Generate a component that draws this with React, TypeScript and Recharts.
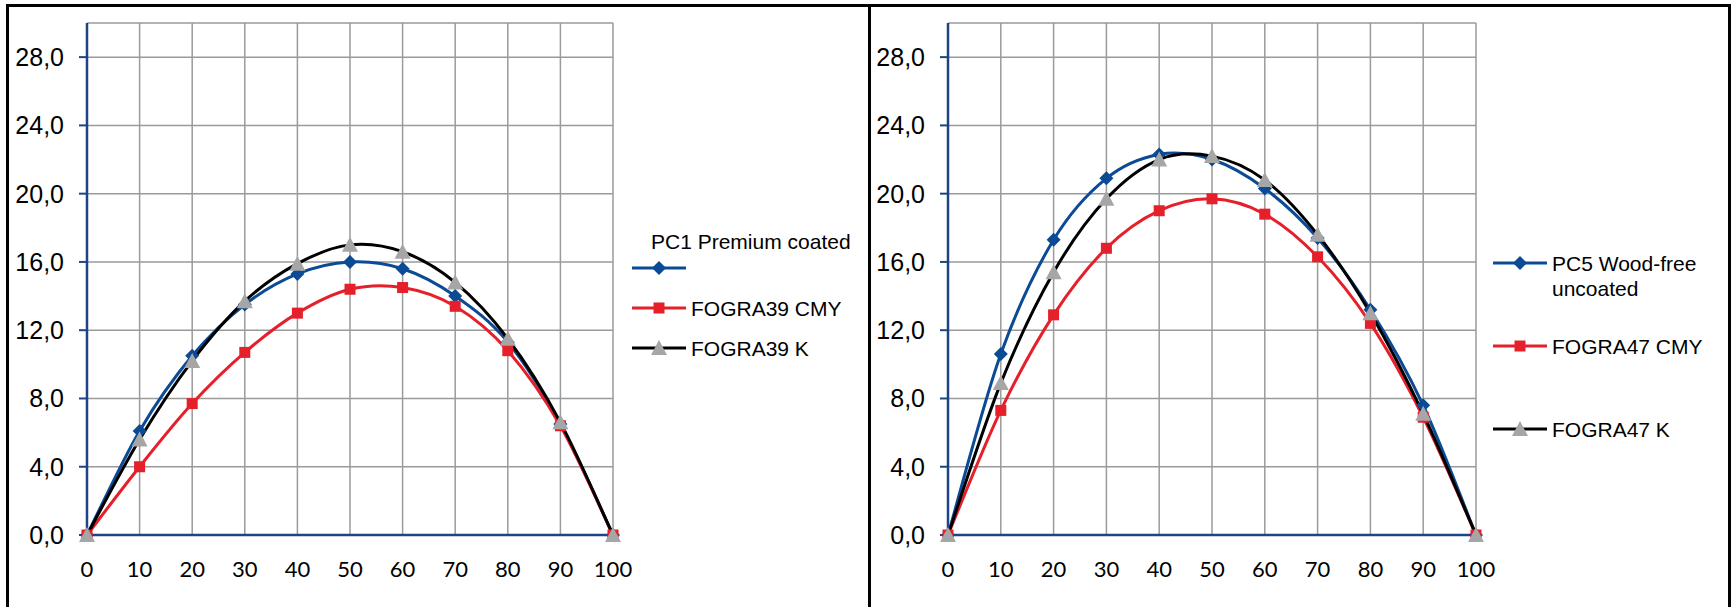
import React from 'react';
import { LineChart, Line, XAxis, YAxis, CartesianGrid } from 'recharts';

const xValues = [0, 10, 20, 30, 40, 50, 60, 70, 80, 90, 100];
const yTicks = [0, 4, 8, 12, 16, 20, 24, 28];

// left panel: PC1 vs FOGRA39
const pc1Coated = [0, 6.1, 10.5, 13.5, 15.3, 16.0, 15.6, 14.0, 11.3, 6.5, 0];
const fogra39Cmy = [0, 4.0, 7.7, 10.7, 13.0, 14.4, 14.5, 13.4, 10.8, 6.4, 0];
const fogra39K = [0, 5.6, 10.2, 13.7, 15.9, 17.0, 16.6, 14.8, 11.5, 6.6, 0];

// right panel: PC5 vs FOGRA47
const pc5Uncoated = [0, 10.6, 17.3, 20.9, 22.3, 22.0, 20.3, 17.4, 13.2, 7.6, 0];
const fogra47Cmy = [0, 7.3, 12.9, 16.8, 19.0, 19.7, 18.8, 16.3, 12.4, 6.9, 0];
const fogra47K = [0, 8.9, 15.4, 19.7, 22.0, 22.2, 20.8, 17.6, 13.0, 7.1, 0];

const BLUE = '#0b4a94';
const RED = '#e5202a';
const BLACK = '#000000';
const GRAY = '#a6a6a6';
const AXIS = '#1d4585';
const GRID = '#9a9a9a';
const ARIAL = '"Liberation Sans", Arial, sans-serif';

// Excel-style smoothed line (Catmull-Rom as cubic bezier)
const excelSmooth = (context: any) => {
  let pts: number[][] = [];
  return {
    areaStart() {},
    areaEnd() {},
    lineStart() {
      pts = [];
    },
    lineEnd() {
      if (!pts.length) return;
      context.moveTo(pts[0][0], pts[0][1]);
      for (let i = 0; i < pts.length - 1; i++) {
        const p0 = pts[i - 1] || pts[i];
        const p1 = pts[i];
        const p2 = pts[i + 1];
        const p3 = pts[i + 2] || p2;
        context.bezierCurveTo(
          p1[0] + (p2[0] - p0[0]) / 6,
          p1[1] + (p2[1] - p0[1]) / 6,
          p2[0] - (p3[0] - p1[0]) / 6,
          p2[1] - (p3[1] - p1[1]) / 6,
          p2[0],
          p2[1]
        );
      }
    },
    point(x: number, y: number) {
      pts.push([+x, +y]);
    },
  };
};

const Diamond = ({ cx, cy }: any) => (
  <polygon points={`${cx},${cy - 7} ${cx + 7},${cy} ${cx},${cy + 7} ${cx - 7},${cy}`} fill={BLUE} />
);
const Square = ({ cx, cy }: any) => <rect x={cx - 5.5} y={cy - 5.5} width={11} height={11} fill={RED} />;
const Triangle = ({ cx, cy }: any) => (
  <polygon points={`${cx},${cy - 8} ${cx + 8},${cy + 7} ${cx - 8},${cy + 7}`} fill={GRAY} />
);

const fmt = (v: number) => v.toFixed(1).replace('.', ',');

function Panel({ left, width, marginLeft, marginRight, a, b, c }: any) {
  const data = xValues.map((x, i) => ({ x, a: a[i], b: b[i], c: c[i] }));
  return (
    <div style={{ position: 'absolute', left, top: 0 }}>
      <LineChart
        width={width}
        height={607}
        data={data}
        margin={{ top: 23, right: marginRight, bottom: 32, left: marginLeft }}
      >
        <CartesianGrid stroke={GRID} strokeWidth={1.5} />
        <XAxis
          dataKey="x"
          type="number"
          domain={[0, 100]}
          ticks={xValues}
          interval={0}
          height={40}
          tickLine={false}
          tickSize={0}
          tickMargin={26}
          axisLine={{ stroke: AXIS, strokeWidth: 2.5 }}
          tick={{ fill: '#000', fontSize: 22, fontFamily: 'Lato, sans-serif' }}
        />
        <YAxis
          type="number"
          domain={[0, 30]}
          ticks={yTicks}
          interval={0}
          width={60}
          tickSize={8}
          tickMargin={15}
          tickFormatter={fmt}
          axisLine={{ stroke: AXIS, strokeWidth: 2.5 }}
          tickLine={{ stroke: AXIS, strokeWidth: 2 }}
          tick={{ fill: '#000', fontSize: 25, fontFamily: ARIAL }}
        />
        <Line
          dataKey="a"
          type={excelSmooth as any}
          stroke={BLUE}
          strokeWidth={3}
          isAnimationActive={false}
          dot={(p: any) => <Diamond key={`a${p.index}`} cx={p.cx} cy={p.cy} />}
        />
        <Line
          dataKey="b"
          type={excelSmooth as any}
          stroke={RED}
          strokeWidth={3}
          isAnimationActive={false}
          dot={(p: any) => <Square key={`b${p.index}`} cx={p.cx} cy={p.cy} />}
        />
        <Line
          dataKey="c"
          type={excelSmooth as any}
          stroke={BLACK}
          strokeWidth={3}
          isAnimationActive={false}
          dot={(p: any) => <Triangle key={`c${p.index}`} cx={p.cx} cy={p.cy} />}
        />
      </LineChart>
    </div>
  );
}

function LegendEntry({ x, y, color, Marker }: any) {
  return (
    <g>
      <line x1={x} x2={x + 54} y1={y} y2={y} stroke={color} strokeWidth={3} />
      <Marker cx={x + 27} cy={y} />
    </g>
  );
}

const legendText = { fontSize: 21, fontFamily: ARIAL, fill: '#000', dominantBaseline: 'central' } as any;

export default function App() {
  return (
    <div
      style={{
        position: 'absolute',
        left: 0,
        top: 0,
        width: 1732,
        height: 607,
        overflow: 'hidden',
        background: '#fff',
      }}
    >
      <div
        style={{
          position: 'absolute',
          left: 6,
          top: 4,
          width: 1725,
          height: 700,
          border: '3px solid #000',
          boxSizing: 'border-box',
        }}
      />
      <div style={{ position: 'absolute', left: 868, top: 4, width: 3, height: 700, background: '#000' }} />
      <Panel left={0} width={870} marginLeft={27} marginRight={257} a={pc1Coated} b={fogra39Cmy} c={fogra39K} />
      <Panel left={870} width={862} marginLeft={18} marginRight={256} a={pc5Uncoated} b={fogra47Cmy} c={fogra47K} />
      <svg width={1732} height={607} style={{ position: 'absolute', left: 0, top: 0, pointerEvents: 'none' }}>
        <text x={651} y={241} {...legendText}>PC1 Premium coated</text>
        <LegendEntry x={632} y={268} color={BLUE} Marker={Diamond} />
        <LegendEntry x={632} y={308} color={RED} Marker={Square} />
        <text x={691} y={308} {...legendText}>FOGRA39 CMY</text>
        <LegendEntry x={632} y={348} color={BLACK} Marker={Triangle} />
        <text x={691} y={348} {...legendText}>FOGRA39 K</text>

        <LegendEntry x={1493} y={263} color={BLUE} Marker={Diamond} />
        <text x={1552} y={263} {...legendText}>PC5 Wood-free</text>
        <text x={1552} y={288} {...legendText}>uncoated</text>
        <LegendEntry x={1493} y={346} color={RED} Marker={Square} />
        <text x={1552} y={346} {...legendText}>FOGRA47 CMY</text>
        <LegendEntry x={1493} y={429} color={BLACK} Marker={Triangle} />
        <text x={1552} y={429} {...legendText}>FOGRA47 K</text>
      </svg>
    </div>
  );
}
